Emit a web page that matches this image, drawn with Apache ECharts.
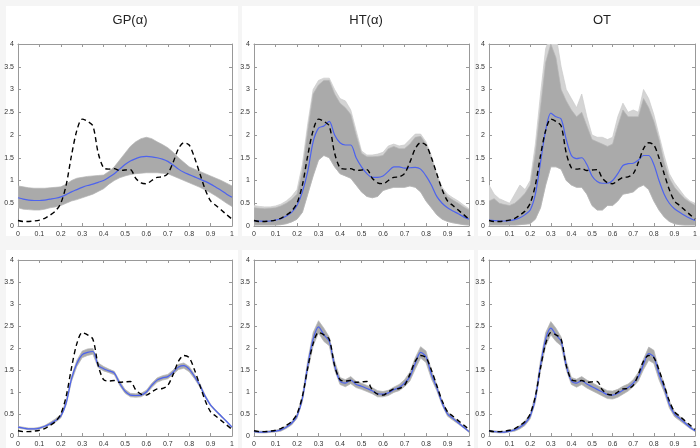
<!DOCTYPE html>
<html><head><meta charset="utf-8">
<script src="https://cdn.jsdelivr.net/npm/echarts@6/dist/echarts.min.js"></script>
<style>html,body{margin:0;padding:0;background:#f5f5f5}#c{width:700px;height:448px}</style>
</head><body><div id="c"></div>
<script>
const titles = ['GP(\u03b1)', 'HT(\u03b1)', 'OT'];
const xs = [0,0.025,0.05,0.075,0.1,0.125,0.15,0.175,0.2,0.225,0.25,0.275,0.3,0.325,0.35,0.375,0.4,0.425,0.45,0.475,0.5,0.525,0.55,0.575,0.6,0.625,0.65,0.675,0.7,0.725,0.75,0.775,0.8,0.825,0.85,0.875,0.9,0.925,0.95,0.975,1];
const truth = [0.12,0.10,0.10,0.11,0.13,0.17,0.24,0.33,0.50,0.90,1.55,2.10,2.35,2.30,2.20,1.60,1.28,1.25,1.26,1.22,1.23,1.24,1.05,0.95,0.93,1.00,1.07,1.08,1.15,1.40,1.70,1.83,1.78,1.50,1.15,0.80,0.55,0.45,0.35,0.25,0.15];

// top row
const gpMean = [0.62,0.59,0.57,0.56,0.56,0.57,0.59,0.61,0.64,0.69,0.75,0.80,0.85,0.89,0.92,0.96,1.00,1.07,1.15,1.25,1.35,1.43,1.48,1.52,1.53,1.52,1.50,1.47,1.42,1.34,1.25,1.18,1.13,1.08,1.03,0.98,0.92,0.85,0.78,0.70,0.63];
const gpUpper = [0.88,0.86,0.84,0.83,0.83,0.83,0.84,0.85,0.86,0.92,1.00,1.05,1.07,1.09,1.10,1.11,1.12,1.20,1.30,1.45,1.60,1.75,1.85,1.92,1.95,1.92,1.85,1.79,1.72,1.62,1.50,1.40,1.30,1.25,1.20,1.15,1.10,1.05,1.00,0.94,0.88];
const gpLower = [0.40,0.37,0.36,0.35,0.35,0.37,0.40,0.42,0.45,0.50,0.55,0.58,0.62,0.66,0.70,0.76,0.82,0.92,1.00,1.06,1.10,1.13,1.15,1.16,1.17,1.17,1.17,1.16,1.15,1.10,1.05,1.00,0.95,0.90,0.85,0.79,0.73,0.66,0.58,0.50,0.43];

const htMean = [0.12,0.11,0.10,0.11,0.13,0.16,0.22,0.30,0.45,0.75,1.20,1.85,2.15,2.20,2.30,2.00,1.83,1.78,1.78,1.50,1.30,1.15,1.07,1.07,1.10,1.20,1.30,1.30,1.27,1.28,1.29,1.25,1.10,0.90,0.65,0.50,0.40,0.33,0.27,0.20,0.15];
const htUpper = [0.40,0.39,0.38,0.39,0.40,0.44,0.50,0.58,0.70,1.20,2.10,2.90,3.10,3.20,3.20,2.90,2.70,2.60,2.45,2.00,1.60,1.52,1.52,1.53,1.55,1.70,1.75,1.70,1.70,1.80,1.95,1.97,1.80,1.50,1.10,0.80,0.65,0.57,0.50,0.42,0.35];
const htLower = [0.02,0.02,0.02,0.02,0.02,0.03,0.05,0.09,0.15,0.30,0.70,1.10,1.45,1.55,1.50,1.30,1.15,1.10,1.05,0.90,0.75,0.65,0.62,0.65,0.78,0.82,0.85,0.85,0.85,0.88,0.85,0.75,0.55,0.40,0.25,0.15,0.10,0.07,0.05,0.03,0.02];
const htOuter = [0.45,0.43,0.42,0.42,0.44,0.48,0.55,0.65,0.80,1.35,2.25,3.00,3.20,3.25,3.25,3.00,2.80,2.75,2.55,2.10,1.65,1.56,1.56,1.58,1.62,1.76,1.80,1.76,1.78,1.90,2.02,2.02,1.85,1.55,1.15,0.85,0.70,0.62,0.55,0.46,0.38];

const otMean = [0.13,0.12,0.11,0.11,0.12,0.14,0.18,0.25,0.35,0.70,1.40,2.10,2.48,2.40,2.35,1.90,1.55,1.48,1.50,1.35,1.10,0.98,0.94,0.94,1.00,1.15,1.33,1.37,1.38,1.45,1.55,1.55,1.35,1.00,0.70,0.50,0.38,0.30,0.23,0.17,0.12];
const otUpper = [0.55,0.60,0.50,0.47,0.45,0.50,0.60,0.72,0.90,1.60,2.60,3.60,4.00,3.70,3.00,2.75,2.55,2.40,2.50,2.20,1.90,1.85,1.80,1.75,1.80,2.20,2.55,2.40,2.40,2.40,2.80,2.60,2.30,1.90,1.40,1.05,0.85,0.72,0.60,0.52,0.45];
const otLower = [0.02,0.02,0.02,0.02,0.02,0.02,0.03,0.04,0.05,0.15,0.40,0.90,1.30,1.30,1.25,1.00,0.90,0.85,0.85,0.70,0.45,0.35,0.35,0.45,0.45,0.55,0.70,0.72,0.75,0.85,0.90,0.80,0.55,0.35,0.20,0.10,0.05,0.03,0.02,0.02,0.02];
const otOuter = [0.90,0.70,0.60,0.55,0.50,0.70,0.90,0.80,1.00,1.80,2.90,3.90,4.20,4.20,3.50,3.00,2.80,2.60,2.90,2.40,2.00,1.95,1.95,1.90,1.95,2.40,2.70,2.50,2.55,2.50,3.00,2.80,2.45,2.00,1.55,1.15,0.95,0.80,0.65,0.55,0.50];

// bottom row
const gp2Mean = [0.20,0.18,0.16,0.16,0.18,0.22,0.28,0.35,0.45,0.75,1.30,1.65,1.85,1.90,1.92,1.60,1.53,1.48,1.43,1.20,1.02,0.93,0.92,0.93,1.00,1.15,1.27,1.32,1.35,1.45,1.57,1.60,1.52,1.35,1.15,0.90,0.70,0.57,0.45,0.33,0.20];
const gp2Upper = [0.22,0.20,0.18,0.18,0.20,0.24,0.31,0.39,0.49,0.80,1.36,1.72,1.93,1.98,1.99,1.66,1.58,1.52,1.47,1.25,1.06,0.97,0.96,0.97,1.04,1.20,1.32,1.37,1.40,1.50,1.63,1.66,1.58,1.40,1.19,0.93,0.72,0.59,0.47,0.34,0.21];
const gp2Lower = [0.18,0.16,0.14,0.14,0.16,0.20,0.25,0.31,0.41,0.70,1.24,1.58,1.78,1.83,1.86,1.55,1.48,1.44,1.39,1.15,0.97,0.89,0.88,0.89,0.96,1.10,1.22,1.27,1.30,1.40,1.51,1.54,1.46,1.30,1.11,0.87,0.68,0.55,0.43,0.32,0.19];

const ht2Mean = [0.10,0.09,0.09,0.10,0.11,0.14,0.20,0.29,0.45,0.85,1.60,2.20,2.48,2.30,2.15,1.60,1.25,1.20,1.27,1.17,1.13,1.08,1.03,0.96,0.95,0.98,1.05,1.10,1.20,1.35,1.65,1.90,1.80,1.40,1.10,0.75,0.50,0.40,0.30,0.20,0.10];
const ht2Upper = [0.12,0.11,0.11,0.12,0.13,0.17,0.23,0.33,0.50,0.92,1.72,2.35,2.62,2.45,2.25,1.70,1.33,1.28,1.35,1.24,1.20,1.15,1.10,1.03,1.01,1.04,1.11,1.17,1.28,1.45,1.78,2.03,1.93,1.50,1.17,0.80,0.55,0.44,0.33,0.22,0.12];
const ht2Lower = [0.08,0.07,0.07,0.08,0.09,0.11,0.17,0.25,0.40,0.78,1.48,2.05,2.34,2.15,2.05,1.50,1.17,1.12,1.19,1.10,1.06,1.01,0.96,0.89,0.89,0.92,0.99,1.03,1.12,1.25,1.52,1.77,1.67,1.30,1.03,0.70,0.45,0.36,0.27,0.18,0.08];

const ot2Mean = [0.11,0.10,0.09,0.09,0.11,0.14,0.20,0.29,0.45,0.85,1.60,2.20,2.45,2.30,2.15,1.60,1.25,1.20,1.26,1.18,1.12,1.06,1.00,0.94,0.93,0.97,1.04,1.10,1.20,1.35,1.63,1.87,1.80,1.40,1.10,0.72,0.50,0.40,0.30,0.20,0.12];
const ot2Upper = [0.13,0.12,0.11,0.11,0.13,0.17,0.24,0.34,0.51,0.94,1.72,2.35,2.60,2.45,2.25,1.70,1.33,1.29,1.35,1.27,1.21,1.15,1.09,1.03,1.02,1.06,1.13,1.18,1.28,1.45,1.75,2.02,1.95,1.52,1.20,0.80,0.56,0.45,0.34,0.23,0.14];
const ot2Lower = [0.09,0.08,0.07,0.07,0.09,0.11,0.16,0.24,0.39,0.76,1.48,2.05,2.30,2.15,2.05,1.50,1.17,1.11,1.17,1.09,1.03,0.97,0.91,0.85,0.84,0.88,0.95,1.02,1.12,1.25,1.51,1.72,1.65,1.28,1.00,0.64,0.44,0.35,0.26,0.17,0.10];

const xTicks = ['0','0.1','0.2','0.3','0.4','0.5','0.6','0.7','0.8','0.9','1'];
const yTicks = ['0','0.5','1','1.5','2','2.5','3','3.5','4'];

const panels = [
  {mean: gpMean, upper: gpUpper, lower: gpLower, outer: null},
  {mean: htMean, upper: htUpper, lower: htLower, outer: htOuter},
  {mean: otMean, upper: otUpper, lower: otLower, outer: otOuter},
  {mean: gp2Mean, upper: gp2Upper, lower: gp2Lower, outer: null},
  {mean: ht2Mean, upper: ht2Upper, lower: ht2Lower, outer: null},
  {mean: ot2Mean, upper: ot2Upper, lower: ot2Lower, outer: null}
];

const gridPos = [
  {left: 18, top: 44, width: 214, height: 182},
  {left: 254, top: 44, width: 215, height: 182},
  {left: 489, top: 44, width: 216, height: 182},
  {left: 18, top: 260, width: 214, height: 179},
  {left: 254, top: 260, width: 215, height: 179},
  {left: 489, top: 260, width: 216, height: 179}
];

const AX = '#999999';
const FONT = 'Liberation Sans, Arial, sans-serif';
const pair = arr => xs.map((x, i) => [x, arr[i]]);

function bandSeries(k, lower, upper, fill, stroke, z) {
  return {
    type: 'custom', xAxisIndex: 2 * k, yAxisIndex: 2 * k, z: z, silent: true, clip: true,
    data: xs.map((x, i) => [x, lower[i], upper[i]]),
    encode: {x: 0, y: [1, 2]},
    renderItem: function (params, api) {
      if (params.dataIndexInside !== 0) return null;
      const n = params.dataInsideLength;
      const up = [], lo = [];
      for (let j = 0; j < n; j++) {
        const x = api.value(0, j);
        up.push(api.coord([x, api.value(2, j)]));
        lo.push(api.coord([x, api.value(1, j)]));
      }
      const pts = up.concat(lo.reverse());
      return {
        type: 'polygon',
        shape: {points: pts},
        style: {fill: fill, stroke: stroke, lineWidth: 0.7},
        clipPath: {type: 'rect', shape: params.coordSys ? {
          x: params.coordSys.x, y: params.coordSys.y,
          width: params.coordSys.width, height: params.coordSys.height} : {}}
      };
    }
  };
}

const grid = [], xAxis = [], yAxis = [], series = [];
panels.forEach((p, k) => {
  grid.push(Object.assign({containLabel: false}, gridPos[k]));
  const common = {min: 0, gridIndex: k, splitLine: {show: false},
    axisLine: {show: true, onZero: false, lineStyle: {color: AX, width: 1}},
    axisTick: {show: true, inside: true, length: 3, lineStyle: {color: AX}}};
  xAxis.push(Object.assign({}, common, {type: 'value', max: 1, interval: 0.1, position: 'bottom',
    axisLabel: {fontSize: 7, color: '#333', margin: 5, fontFamily: FONT,
      formatter: v => xTicks[Math.round(v * 10)]}}));
  xAxis.push(Object.assign({}, common, {type: 'value', max: 1, interval: 0.1, position: 'top',
    axisLabel: {show: false}}));
  yAxis.push(Object.assign({}, common, {type: 'value', max: 4, interval: 0.5, position: 'left',
    axisLabel: {fontSize: 7, color: '#333', margin: 4, fontFamily: FONT,
      formatter: v => yTicks[Math.round(v * 2)]}}));
  yAxis.push(Object.assign({}, common, {type: 'value', max: 4, interval: 0.5, position: 'right',
    axisLabel: {show: false}}));
  const xi = 2 * k, yi = 2 * k;
  if (p.outer) series.push(bandSeries(k, p.lower, p.outer, '#d4d4d4', '#cccccc', 1));
  series.push(bandSeries(k, p.lower, p.upper, '#aaaaaa', '#b4b4b4', 2));
  series.push({type: 'line', xAxisIndex: xi, yAxisIndex: yi, data: pair(p.mean),
    symbol: 'none', smooth: 0.3, lineStyle: {width: 1.2, color: '#4d63ee'}, z: 4});
  series.push({type: 'line', xAxisIndex: xi, yAxisIndex: yi, data: pair(truth),
    symbol: 'none', smooth: 0.3, lineStyle: {width: 1.4, color: '#000', type: [5, 3.5]}, z: 5});
});

const chart = echarts.init(document.getElementById('c'), null, {renderer: 'canvas'});
chart.setOption({
  backgroundColor: '#f5f5f5',
  animation: false,
  graphic: [
    {type: 'rect', shape: {x: 6, y: 6, width: 232, height: 230}, style: {fill: '#fff'}, z: -10},
    {type: 'rect', shape: {x: 242, y: 6, width: 232, height: 230}, style: {fill: '#fff'}, z: -10},
    {type: 'rect', shape: {x: 478, y: 6, width: 222, height: 230}, style: {fill: '#fff'}, z: -10},
    {type: 'rect', shape: {x: 6, y: 250, width: 232, height: 198}, style: {fill: '#fff'}, z: -10},
    {type: 'rect', shape: {x: 242, y: 250, width: 232, height: 198}, style: {fill: '#fff'}, z: -10},
    {type: 'rect', shape: {x: 478, y: 250, width: 222, height: 198}, style: {fill: '#fff'}, z: -10}
  ],
  title: titles.map((t, i) => ({text: t, left: [125, 361, 597][i], top: 9, textAlign: 'center',
    textStyle: {fontSize: 13, fontWeight: 'normal', color: '#222', fontFamily: FONT}})),
  grid, xAxis, yAxis, series
});
</script></body></html>
